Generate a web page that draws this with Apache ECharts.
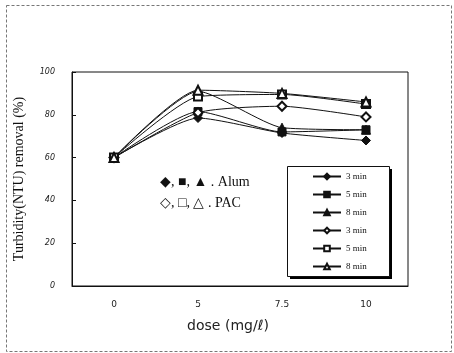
<!DOCTYPE html>
<html>
<head>
<meta charset="utf-8">
<script src="https://cdn.jsdelivr.net/npm/echarts@6/dist/echarts.min.js"></script>
<style>
  html, body { margin: 0; padding: 0; background: #fff; }
  #chart { width: 454px; height: 353px; }
</style>
</head>
<body>
<div id="chart"></div>
<script>
const doses = ['0', '5', '7.5', '10'];

// Alum (filled markers)
const alum3 = [60, 78.5, 71.5, 68];
const alum5 = [60, 81.5, 72, 73];
const alum8 = [60, 91, 74, 73];
// PAC (open markers)
const pac3 = [60, 81, 84, 79];
const pac5 = [60, 88.5, 89.5, 85];
const pac8 = [60, 91.5, 90, 86];

const seriesDefs = [
  {name: 'A 3 min', data: alum3, symbol: 'diamond', size: 9},
  {name: 'A 5 min', data: alum5, symbol: 'rect', size: 8},
  {name: 'A 8 min', data: alum8, symbol: 'triangle', size: 9},
  {name: 'P 3 min', data: pac3, symbol: 'emptyDiamond', size: 9},
  {name: 'P 5 min', data: pac5, symbol: 'emptyRect', size: 8},
  {name: 'P 8 min', data: pac8, symbol: 'emptyTriangle', size: 9},
];

const chart = echarts.init(document.getElementById('chart'));
chart.setOption({
  animation: false,
  backgroundColor: '#fff',
  grid: {
    left: 72, top: 72, width: 336, height: 214,
    show: true, borderColor: '#111', borderWidth: 1,
  },
  xAxis: {
    type: 'category',
    data: doses,
    boundaryGap: true,
    axisLine: {lineStyle: {color: '#111'}},
    axisTick: {inside: true, length: 4, lineStyle: {color: '#111'}},
    axisLabel: {margin: 14, fontSize: 9, color: '#222', fontFamily: 'DejaVu Sans'},
    name: 'dose (mg/ℓ)',
    nameLocation: 'middle',
    nameGap: 33,
    nameTextStyle: {fontSize: 14, color: '#222', fontFamily: 'DejaVu Sans', padding: [0, 24, 0, 0]},
  },
  yAxis: {
    type: 'value',
    min: 0, max: 100, interval: 20,
    splitLine: {show: false},
    axisLine: {show: true, lineStyle: {color: '#111'}},
    axisTick: {show: true, inside: true, length: 4, lineStyle: {color: '#111'}},
    axisLabel: {margin: 17, fontSize: 8, color: '#222', fontStyle: 'italic', fontFamily: 'DejaVu Sans'},
    name: 'Turbidity(NTU) removal (%)',
    nameLocation: 'middle',
    nameGap: 46,
    nameTextStyle: {fontSize: 14, color: '#111', fontFamily: 'Liberation Serif'},
  },
  legend: {
    orient: 'vertical',
    left: 288, top: 166,
    padding: [6, 8, 6, 24],
    itemWidth: 28, itemHeight: 7, itemGap: 9,
    textStyle: {fontSize: 9, color: '#111', fontFamily: 'Liberation Serif'},
    formatter: name => name.slice(2),
    data: seriesDefs.map(s => s.name),
  },
  series: seriesDefs.map(s => ({
    name: s.name,
    type: 'line',
    data: s.data,
    smooth: 0.2,
    symbol: s.symbol,
    symbolSize: s.size,
    showAllSymbol: true,
    lineStyle: {color: '#111', width: 1},
    itemStyle: {color: '#111', borderColor: '#111', borderWidth: 1},
  })),
  graphic: [
    {type: 'rect', left: 4, top: 3, shape: {width: 445, height: 346},
      style: {fill: 'none', stroke: '#777', lineWidth: 1, lineDash: [3, 2]}},
    {type: 'rect', left: 290, top: 169, z: 3, shape: {width: 102, height: 110},
      style: {fill: '#000'}},
    {type: 'rect', left: 287, top: 166, z: 3, shape: {width: 102, height: 110},
      style: {fill: '#fff', stroke: '#111', lineWidth: 1}},
    {type: 'text', left: 160, top: 175,
      style: {text: '◆, ■, ▲ . Alum', fontSize: 14, fill: '#111', fontFamily: 'Liberation Serif'}},
    {type: 'text', left: 160, top: 196,
      style: {text: '◇, □, △ . PAC', fontSize: 14, fill: '#111', fontFamily: 'Liberation Serif'}},
  ],
});
</script>
</body>
</html>
